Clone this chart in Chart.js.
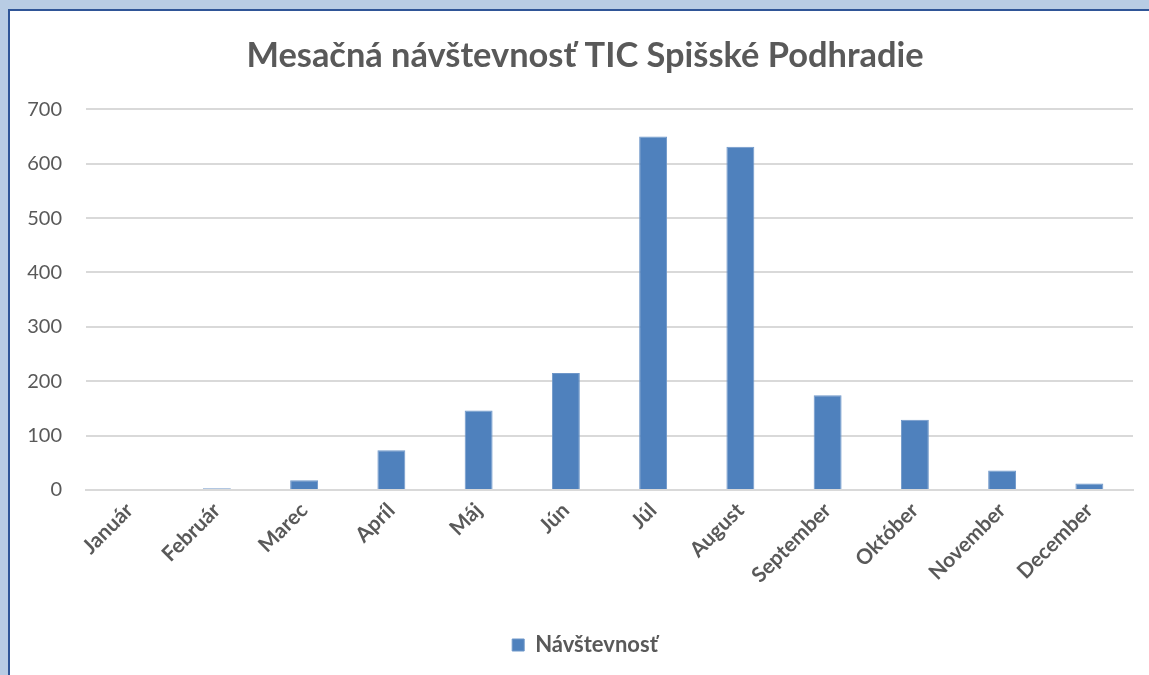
<!DOCTYPE html>
<html>
<head>
<meta charset="utf-8">
<script src="https://cdn.jsdelivr.net/npm/chart.js@4"></script>
<style>
  html, body { margin: 0; padding: 0; width: 1149px; height: 675px; overflow: hidden; background: #b8cce4; }
  #panel { position: absolute; left: 8px; top: 9px; width: 1139px; height: 664px; background: #ffffff;
           border-left: 2px solid #2f5597; border-top: 2px solid #2f5597; }
  #c { position: absolute; left: 0; top: 0; }
</style>
</head>
<body>
<div id="panel"><canvas id="c" width="1139" height="664"></canvas></div>
<script>
const title = "Mesačná návštevnosť TIC Spišské Podhradie";
const seriesName = "Návštevnosť";
const months = ["Január", "Február", "Marec", "Apríl", "Máj", "Jún", "Júl", "August", "September", "Október", "November", "December"];
const visits = [0, 3, 18, 73, 146, 215, 650, 631, 174, 129, 36, 12];
const yTicks = [0, 100, 200, 300, 400, 500, 600, 700];

const textColor = "#595959";
const gridColor = "#d9d9d9";
const barColor = "#4f81bd";
const FONT = "Lato";

new Chart(document.getElementById("c"), {
  type: "bar",
  data: {
    labels: months,
    datasets: [{
      label: seriesName,
      data: visits,
      backgroundColor: barColor,
      borderColor: "#6f97c9",
      borderWidth: 1,
      categoryPercentage: 1.0,
      barPercentage: 0.32
    }]
  },
  options: {
    responsive: false,
    animation: false,
    layout: { padding: { left: 11, right: 0, top: 0, bottom: 9 } },
    plugins: {
      title: {
        display: true,
        text: title,
        color: textColor,
        font: { family: FONT, size: 34.4, weight: "bold" },
        padding: { top: 24, bottom: 33 }
      },
      legend: {
        position: "bottom",
        labels: {
          color: textColor,
          font: { family: FONT, size: 22, weight: "bold" },
          boxWidth: 12,
          boxHeight: 12,
          padding: 9
        }
      },
      tooltip: { enabled: false }
    },
    scales: {
      x: {
        grid: { display: false, drawTicks: false },
        border: { color: gridColor, width: 2 },
        ticks: {
          color: textColor,
          font: { family: FONT, size: 21, weight: "bold" },
          minRotation: 45,
          maxRotation: 45,
          padding: 8,
          autoSkip: false
        },
        afterFit: (s) => { s.height = 135; }
      },
      y: {
        min: 0,
        max: yTicks[yTicks.length - 1],
        afterBuildTicks: (s) => { s.ticks = yTicks.map(v => ({ value: v })); },
        grid: { color: gridColor, lineWidth: 2, drawTicks: false },
        border: { display: false },
        ticks: {
          color: textColor,
          font: { family: FONT, size: 20 },
          padding: 24
        },
        afterFit: (s) => { s.width = 65; }
      },
      yRight: {
        position: "right",
        display: true,
        grid: { display: false, drawTicks: false },
        border: { display: false },
        ticks: { display: false },
        afterFit: (s) => { s.width = 16; }
      }
    }
  }
});
</script>
</body>
</html>
